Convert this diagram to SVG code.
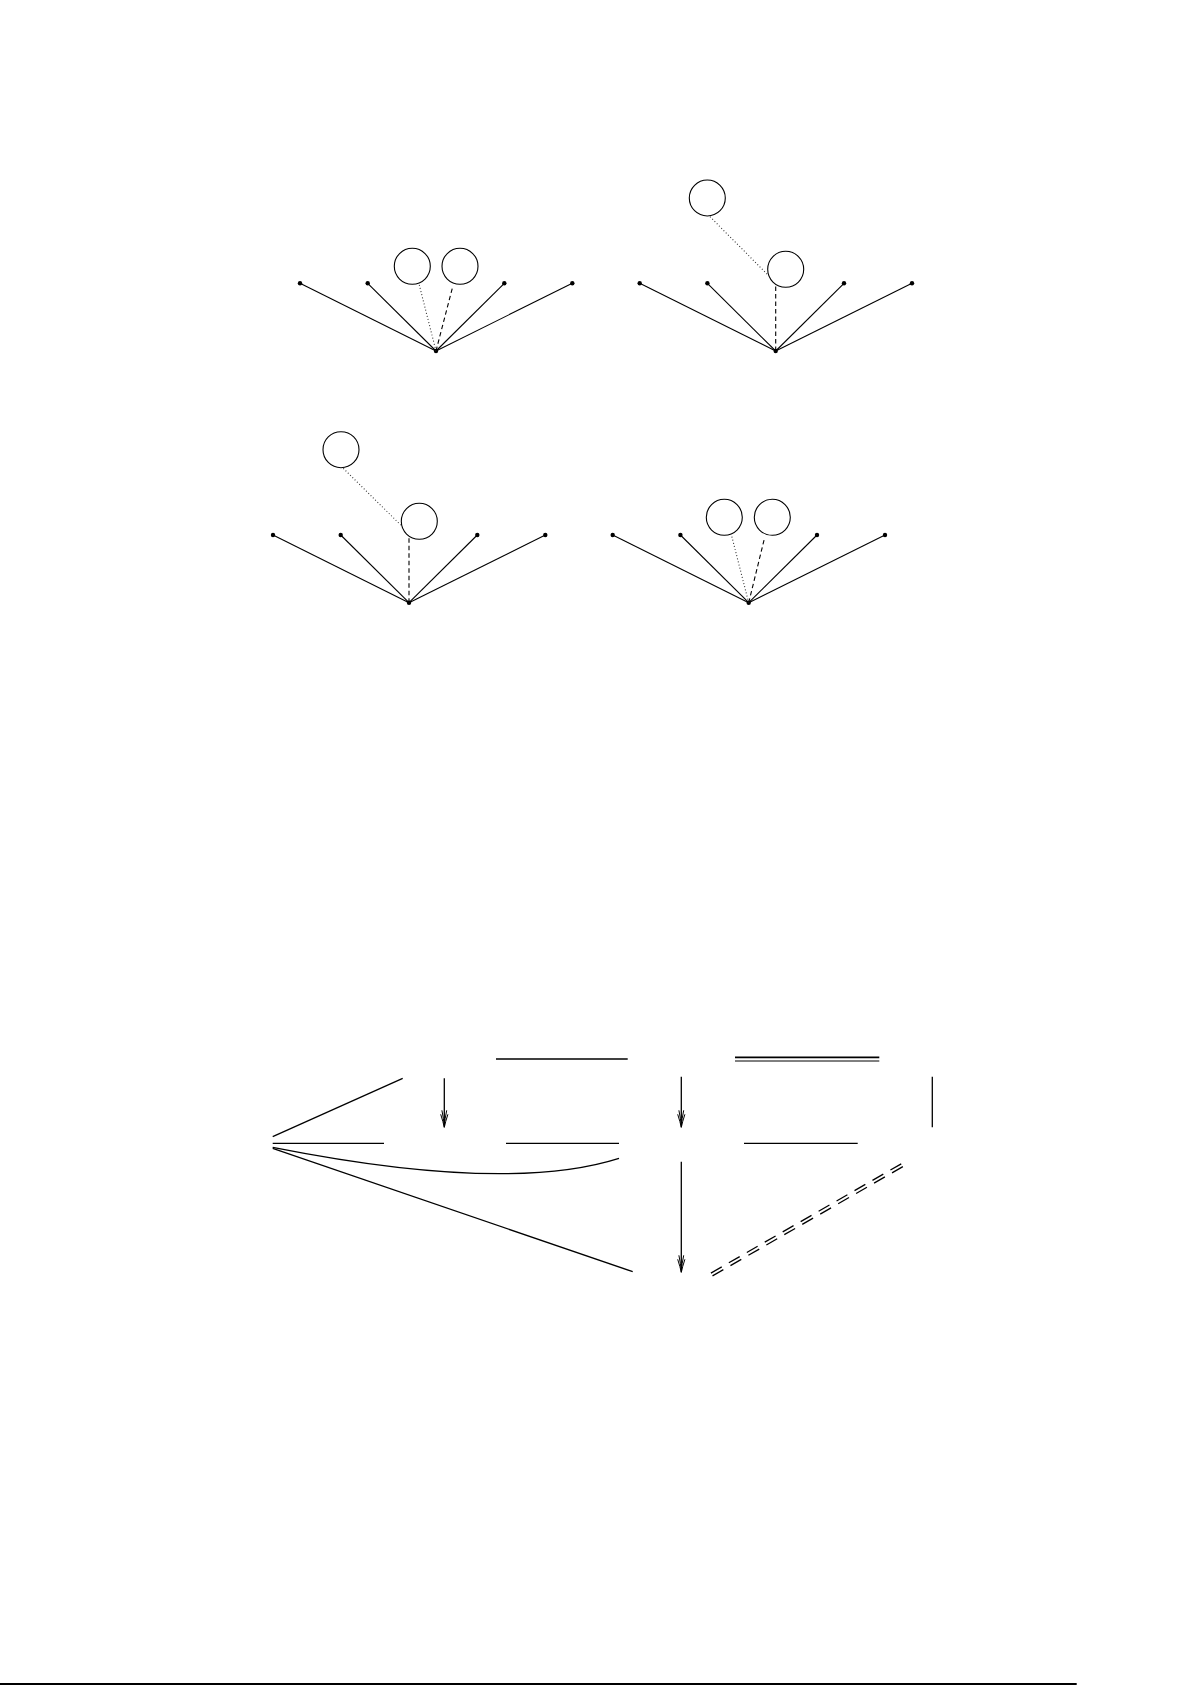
<svg xmlns="http://www.w3.org/2000/svg" width="1192" height="1685" viewBox="0 0 1192 1685">
<style>
.e{stroke:#000;stroke-width:1.1;fill:none}
.dot{fill:#000}
.c{stroke:#000;stroke-width:1.1;fill:none}
.dt{stroke:#333;stroke-width:1.1;stroke-dasharray:1 2.2;fill:none}
.ds{stroke:#000;stroke-width:1.1;stroke-dasharray:4.5 3;fill:none}
.b{stroke:#000;stroke-width:1.3;fill:none}
</style>
<defs>
<marker id="ar" markerUnits="userSpaceOnUse" markerWidth="24" markerHeight="12" viewBox="-20 -6 24 12" refX="0" refY="0" orient="auto">
<path d="M-13,-3.6 Q-5,-1 0,0 Q-5,1 -13,3.6 M-17,-2.4 Q-8,-0.6 -2,0 Q-8,0.6 -17,2.4" stroke="#000" stroke-width="1" fill="none"/>
</marker>
<g id="fan">
<line class="e" x1="0" y1="0" x2="-136" y2="-67.7"/>
<line class="e" x1="0" y1="0" x2="-68.3" y2="-67.7"/>
<line class="e" x1="0" y1="0" x2="68.3" y2="-67.7"/>
<line class="e" x1="0" y1="0" x2="136.3" y2="-67.7"/>
<circle class="dot" cx="0" cy="0" r="2.2"/>
<circle class="dot" cx="-136" cy="-67.7" r="2.2"/>
<circle class="dot" cx="-68.3" cy="-67.7" r="2.2"/>
<circle class="dot" cx="68.3" cy="-67.7" r="2.2"/>
<circle class="dot" cx="136.3" cy="-67.7" r="2.2"/>
</g>
</defs>

<g id="diagram1" transform="translate(436,351)">
<use href="#fan"/>
<circle class="c" cx="-23.7" cy="-84.7" r="18"/>
<circle class="c" cx="24" cy="-84.7" r="18"/>
<line class="dt" x1="0" y1="0" x2="-16.7" y2="-66"/>
<line class="ds" x1="0" y1="0" x2="16.7" y2="-64.3"/>
</g>

<g id="diagram2" transform="translate(775.7,351)">
<use href="#fan"/>
<circle class="c" cx="-68.4" cy="-153" r="18"/>
<circle class="c" cx="10" cy="-81.7" r="18"/>
<line class="dt" x1="-65.7" y1="-134.3" x2="-8.4" y2="-76.7"/>
<line class="ds" x1="0" y1="0" x2="0" y2="-65"/>
</g>

<g id="diagram3" transform="translate(409,602.7)">
<use href="#fan"/>
<circle class="c" cx="-68" cy="-153" r="18"/>
<circle class="c" cx="10.3" cy="-81.4" r="18"/>
<line class="dt" x1="-65.7" y1="-134.4" x2="-8.3" y2="-77.7"/>
<line class="ds" x1="0" y1="0" x2="0" y2="-66"/>
</g>

<g id="diagram4" transform="translate(748.7,602.7)">
<use href="#fan"/>
<circle class="c" cx="-24.4" cy="-85.4" r="18"/>
<circle class="c" cx="23.6" cy="-85.4" r="18"/>
<line class="dt" x1="0" y1="0" x2="-17" y2="-66.7"/>
<line class="ds" x1="0" y1="0" x2="15.6" y2="-63.7"/>
</g>

<g id="connectors">
<line class="b" x1="272.7" y1="1136.7" x2="402.7" y2="1078.3"/>
<line class="b" x1="272.7" y1="1143.3" x2="384" y2="1143.3"/>
<path class="b" d="M272.7,1147.3 Q507.6,1193.8 619,1158.3"/>
<line class="b" x1="272.7" y1="1148.3" x2="632.7" y2="1271.7"/>
<line class="b" x1="444.3" y1="1078.3" x2="444.3" y2="1127.3" marker-end="url(#ar)"/>
<line class="b" x1="496" y1="1059" x2="627.7" y2="1059"/>
<line class="b" x1="506" y1="1143.3" x2="619" y2="1143.3"/>
<line stroke="#000" stroke-width="1.8" x1="735" y1="1057.3" x2="879.3" y2="1057.3"/>
<line stroke="#000" stroke-width="1" x1="735" y1="1061" x2="879.3" y2="1061"/>
<line class="b" x1="681.3" y1="1076.7" x2="681.3" y2="1127.3" marker-end="url(#ar)"/>
<line class="b" x1="932.3" y1="1076.7" x2="932.3" y2="1127.3"/>
<line class="b" x1="744" y1="1143.3" x2="857.7" y2="1143.3"/>
<line class="b" x1="681.3" y1="1161.7" x2="681.3" y2="1272.3" marker-end="url(#ar)"/>
<line stroke="#000" stroke-width="1.3" stroke-dasharray="12.5 8.2" x1="710.9" y1="1273.1" x2="902.5" y2="1163.1"/>
<line stroke="#000" stroke-width="1.3" stroke-dasharray="12.5 8.2" x1="712.5" y1="1275.9" x2="904.1" y2="1165.9"/>
</g>

<line stroke="#000" stroke-width="2" x1="0" y1="1684" x2="1076.7" y2="1684"/>
</svg>
